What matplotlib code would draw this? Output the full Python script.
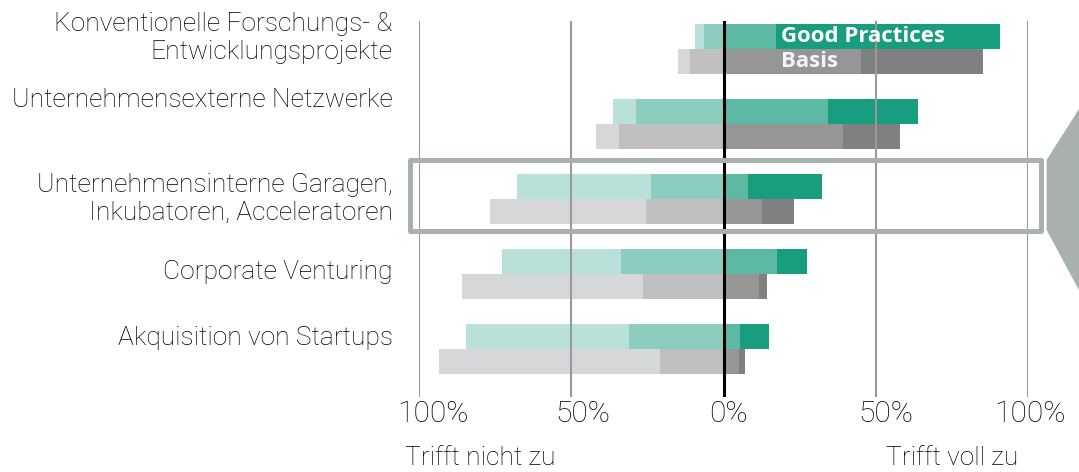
import matplotlib
matplotlib.use('Agg')
import matplotlib.pyplot as plt
from matplotlib.patches import Rectangle, Polygon

plt.rcParams['font.family'] = ['Roboto', 'DejaVu Sans']

# Categories (top to bottom)
categories = ['Konventionelle Forschungs- &\nEntwicklungsprojekte',
              'Unternehmensexterne Netzwerke',
              'Unternehmensinterne Garagen,\nInkubatoren, Acceleratoren',
              'Corporate Venturing',
              'Akquisition von Startups']

# Shares in percent: trifft nicht zu, eher nicht, eher zu, voll zu
gp_not = [2.8, 7.5, 44.1, 39.2, 53.6]
gp_rather_not = [6.4, 28.7, 23.7, 33.5, 30.9]
gp_rather = [17.3, 34.4, 8.0, 17.5, 5.3]
gp_full = [73.5, 29.4, 24.3, 9.8, 9.8]

basis_not = [3.7, 7.8, 51.3, 59.3, 72.8]
basis_rather_not = [11.1, 34.2, 25.4, 26.6, 20.7]
basis_rather = [45.1, 39.4, 12.5, 11.8, 5.0]
basis_full = [40.1, 18.6, 10.6, 2.4, 2.0]

tick_values = [-100, -50, 0, 50, 100]
tick_labels = ['100%', '50%', '0%', '50%', '100%']

gp_colors = ['#b9e1d9', '#8dcdbf', '#5db9a3', '#189e7e']
basis_colors = ['#d6d7d9', '#c0c0c0', '#969696', '#808080']

W, H = 1079, 472
fig = plt.figure(figsize=(W / 100, H / 100), dpi=100)
ax = fig.add_axes([419 / W, 1 - 397 / H, 609 / W, 376 / H])
ax.set_xlim(-100, 100)
ax.set_ylim(4.64, -0.373)
ax.axis('off')

bar_h = 0.333


def draw_row(y, n, rn, r, f, colors):
    ax.barh(y, n, left=[-(a + b) for a, b in zip(n, rn)], height=bar_h,
            color=colors[0], zorder=2)
    ax.barh(y, rn, left=[-b for b in rn], height=bar_h, color=colors[1], zorder=2)
    ax.barh(y, r, left=0, height=bar_h, color=colors[2], zorder=2)
    ax.barh(y, f, left=r, height=bar_h, color=colors[3], zorder=2)


idx = list(range(len(categories)))
gp_y = [i - 0.17 for i in idx]
basis_y = [i + 0.163 for i in idx]
draw_row(gp_y, gp_not, gp_rather_not, gp_rather, gp_full, gp_colors)
draw_row(basis_y, basis_not, basis_rather_not, basis_rather, basis_full, basis_colors)

# grid lines on top of the bars
for v in tick_values:
    if v == 0:
        ax.axvline(v, color='black', lw=2.2, zorder=4)
    else:
        ax.axvline(v, color='#999999', lw=1.5, zorder=3)

# series labels inside the top bars
bold_font = ['Open Sans', 'DejaVu Sans']
ax.text(19, gp_y[0], 'Good Practices', color='white', fontsize=16,
        family=bold_font, fontweight='bold', va='center', ha='left', zorder=5)
ax.text(19, basis_y[0], 'Basis', color='#f4f4f4', fontsize=16,
        family=bold_font, fontweight='bold', va='center', ha='left', zorder=5)

# category labels
txt = dict(color='black', fontweight='light')
label_y = [-0.15, 0.68, 2.0, 2.98, 3.86]
for lab, y in zip(categories, label_y):
    ax.text(-108.7, y, lab, ha='right', va='center', fontsize=19,
            linespacing=1.2, **txt)

# tick labels and scale ends
tx = ax.get_xaxis_transform()
tick_label_x = [-95.4, -46.3, 1.6, 53.2, 100.5]
for x, lab in zip(tick_label_x, tick_labels):
    ax.text(x, -0.066, lab, transform=tx, ha='center', va='baseline',
            fontsize=21.5, **txt)
ax.text(-79.8, -0.181, 'Trifft nicht zu', transform=tx, ha='center',
        va='baseline', fontsize=19, **txt)
ax.text(75.2, -0.181, 'Trifft voll zu', transform=tx, ha='center',
        va='baseline', fontsize=19, **txt)

# highlight frame and callout wedge
box_col = '#a9b1af'
ax.add_patch(Rectangle((-103.1, 1.48), 207.5, 0.95, fill=False,
                       edgecolor=box_col, lw=3.6, joinstyle='round',
                       zorder=6, clip_on=False))
ax.add_patch(Polygon([(106.1, 1.48), (118, 0.72), (118, 3.31), (106.1, 2.413)],
                     closed=True, facecolor=box_col, edgecolor='none',
                     zorder=6, clip_on=False))

fig.savefig('out.png', dpi=100)
